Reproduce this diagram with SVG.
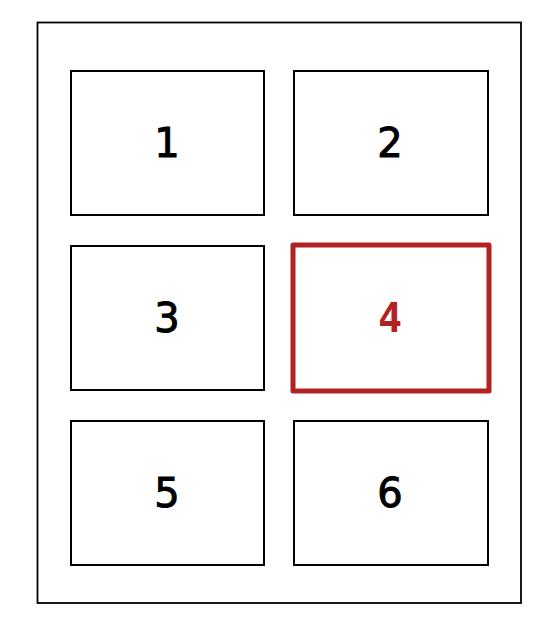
<svg xmlns="http://www.w3.org/2000/svg" width="560" height="636" viewBox="0 0 560 636">
<style>
.box{fill:#fff;stroke:#000;stroke-width:2}
.lbl{font-family:"DejaVu Sans",sans-serif;font-size:40px;text-anchor:middle;fill:#000;stroke:#000;stroke-width:1}
.hl{fill:#fff;stroke:#b22222;stroke-width:5;stroke-linejoin:round}
.hlt{font-family:"DejaVu Sans Mono",monospace;font-size:40px;font-weight:bold;text-anchor:middle;fill:#b22222}
</style>
<rect width="560" height="636" fill="#fff"/>
<g id="page"><rect x="37.5" y="22.5" width="483.5" height="580.5" class="box" style="stroke-width:1.8"/></g>
<g id="n1"><rect x="71" y="71" width="193" height="144" class="box"/><text x="167" y="157" class="lbl">1</text></g>
<g id="n2"><rect x="294" y="71" width="194" height="144" class="box"/><text x="390" y="157" class="lbl">2</text></g>
<g id="n3"><rect x="71" y="246" width="193" height="144" class="box"/><text x="167" y="332" class="lbl">3</text></g>
<g id="n4"><rect x="293" y="245" width="196" height="146" class="hl"/><text x="390" y="332" class="hlt">4</text></g>
<g id="n5"><rect x="71" y="421" width="193" height="144" class="box"/><text x="167" y="507" class="lbl">5</text></g>
<g id="n6"><rect x="294" y="421" width="194" height="144" class="box"/><text x="390" y="507" class="lbl">6</text></g>
<g id="connectors"/>
</svg>
